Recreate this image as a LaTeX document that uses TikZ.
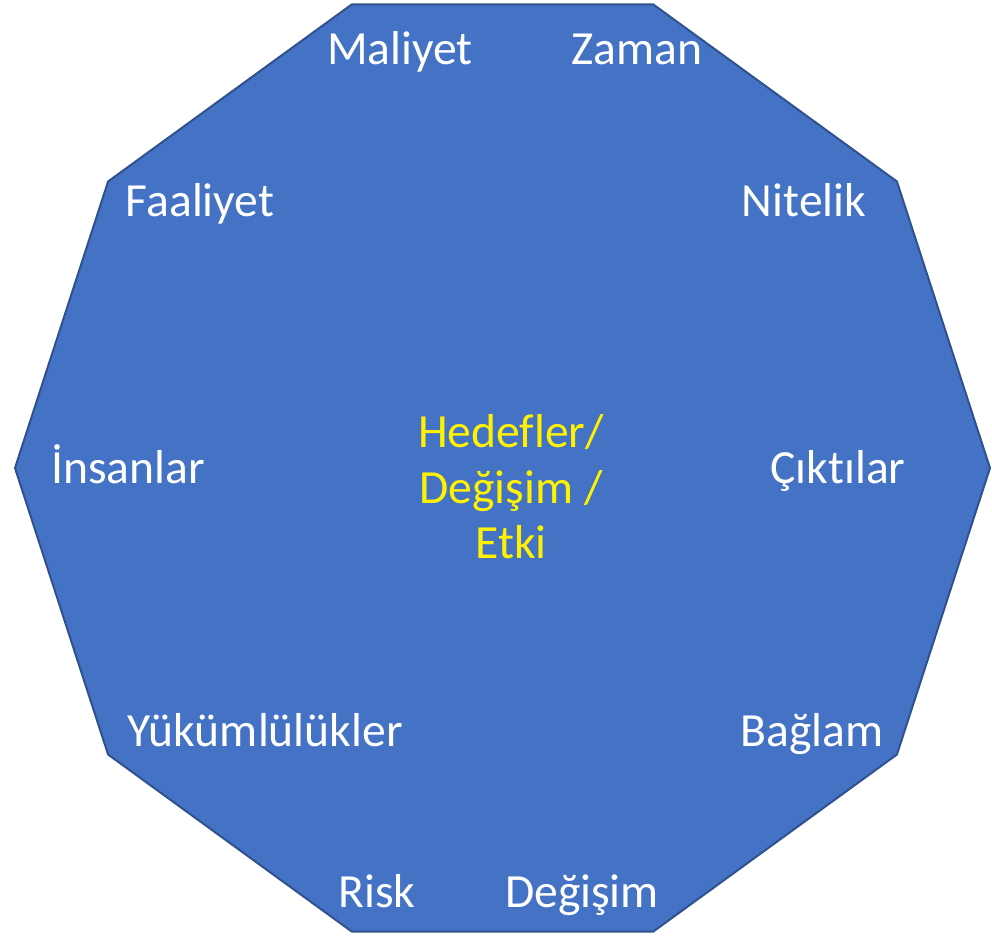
\documentclass[tikz,border=0pt]{standalone}
\usepackage{fontspec}
\setmainfont{Carlito}[Ligatures=NoCommon]
\usetikzlibrary{positioning,calc}
\definecolor{decafill}{HTML}{4472C4}
\definecolor{decaline}{HTML}{2F528F}

\begin{document}
\begin{tikzpicture}[
  x=1pt, y=-1pt,
  deca/.style={draw=decaline, line width=2pt, fill=decafill, line join=miter},
  lbl/.style={text=white, font=\fontsize{47.6}{56}\selectfont, anchor=base,
              inner sep=0pt},
  core/.style={text=yellow, font=\fontsize{47.6}{56}\selectfont, align=center,
               anchor=base, inner sep=0pt}
]
  \useasboundingbox (0,0) rectangle (992,936);
  % Decagon
  \coordinate (c) at (502.5,468);
  \draw[deca] ($(c)+(0:487.5)$)
    \foreach \a in {36,72,...,324} { -- ($(c)+(\a:487.5)$) } -- cycle;

  % Outer labels
  \node[lbl] (maliyet) at (400,65) {Maliyet};
  \node[lbl] (zaman) at (637,65) {Zaman};
  \node[lbl] (faaliyet) at (200,216) {Faaliyet};
  \node[lbl] (nitelik) at (804,216) {Nitelik};
  \node[lbl] (insanlar) at (128,483) {İnsanlar};
  \node[lbl] (ciktilar) at (838,483) {Çıktılar};
  \node[lbl] (yukum) at (265,746) {Yükümlülükler};
  \node[lbl] (baglam) at (812,746) {Bağlam};
  \node[lbl] (risk) at (377,907) {Risk};
  \node[lbl] (degisim) at (582,907) {Değişim};

  % Centre
  \node[core] (hedef) at (511,447) {Hedefler/};
  \node[core] (degetki) at (511,503) {Değişim /};
  \node[core] (etki) at (511,558) {Etki};
\end{tikzpicture}
\end{document}
